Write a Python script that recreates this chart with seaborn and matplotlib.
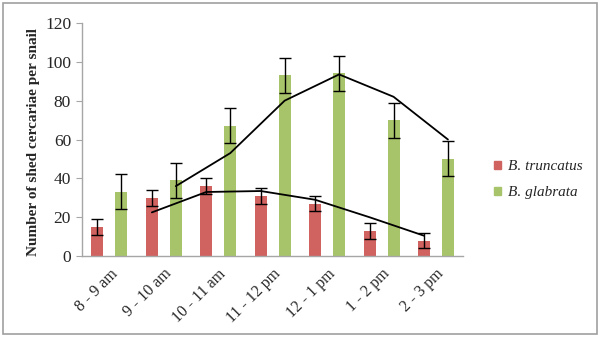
import pandas as pd
import matplotlib
matplotlib.use('Agg')
import matplotlib.pyplot as plt
from matplotlib.patches import Rectangle
import seaborn as sns

# データ
time_slots = ['8 - 9 am', '9 - 10 am', '10 - 11 am', '11 - 12 pm', '12 - 1 pm', '1 - 2 pm', '2 - 3 pm']
species = ['B. truncatus', 'B. glabrata']
truncatus = [15, 30, 36, 31, 27, 13, 8]
glabrata = [33, 39, 67, 93, 94, 70, 50]
truncatus_err = [4, 4, 4, 4, 4, 4, 4]
glabrata_err = [9, 9, 9, 9, 9, 9, 9]
# 2区間移動平均の線
truncatus_trend = [22.5, 33, 33.5, 29, 20, 10.5]
glabrata_trend = [36, 53, 80, 93.5, 82, 60]

colors = ['#D0625F', '#A8C46A']

df = pd.DataFrame({
    'slot': time_slots * 2,
    'species': [species[0]] * 7 + [species[1]] * 7,
    'value': truncatus + glabrata,
})

sns.set_style('white')
plt.rcParams['font.family'] = ['Liberation Serif', 'DejaVu Serif']

fig = plt.figure(figsize=(6, 3.37), dpi=100)
ax = fig.add_axes([0.137, 0.240, 0.635, 0.692])

sns.barplot(data=df, x='slot', y='value', hue='species', palette=colors,
            width=0.88, gap=0.5, errorbar=None, saturation=1, linewidth=0,
            ax=ax, legend=False)

errs = [truncatus_err, glabrata_err]
trends = [truncatus_trend, glabrata_trend]
bar_groups = [list(c) for c in ax.containers]
for k, cont in enumerate(bar_groups):
    xs = [b.get_x() + b.get_width() / 2 for b in cont]
    ys = [b.get_height() for b in cont]
    ax.errorbar(xs, ys, yerr=errs[k], fmt='none', ecolor='black',
                elinewidth=1.0, capsize=4, capthick=1.0, zorder=3)
    ax.plot(xs[1:], trends[k], color='black', lw=1.3, zorder=4)

ax.set_ylim(0, 120)
ax.set_xlim(-0.5, 6.5)
ax.set_yticks(range(0, 121, 20))
ax.set_xlabel('')
ax.set_ylabel('Number of shed cercariae per snail', fontsize=11, fontweight='bold')
ax.yaxis.set_label_coords(-0.11, 0.49)
ax.tick_params(axis='y', labelsize=12.5, length=4, color='#A6A6A6', left=True, pad=4)
ax.tick_params(axis='x', labelsize=11.5, length=0, pad=7)
plt.setp(ax.get_xticklabels(), rotation=45, ha='right', rotation_mode='anchor')

for s in ['top', 'right']:
    ax.spines[s].set_visible(False)
for s in ['left', 'bottom']:
    ax.spines[s].set_color('#A6A6A6')
    ax.spines[s].set_linewidth(1)

handles = [Rectangle((0, 0), 1, 1, color=c) for c in colors]
leg = fig.legend(handles, species, loc='upper left', bbox_to_anchor=(0.8, 0.565),
                 frameon=False, prop={'style': 'italic', 'size': 11},
                 handlelength=0.5, handleheight=0.5, handletextpad=0.4, labelspacing=0.85)

fig.patches.append(Rectangle((0.005, 0.008), 0.99, 0.982, transform=fig.transFigure,
                             fill=False, edgecolor='#A0A0A0', lw=1.2))

plt.savefig('out.png', dpi=100)
